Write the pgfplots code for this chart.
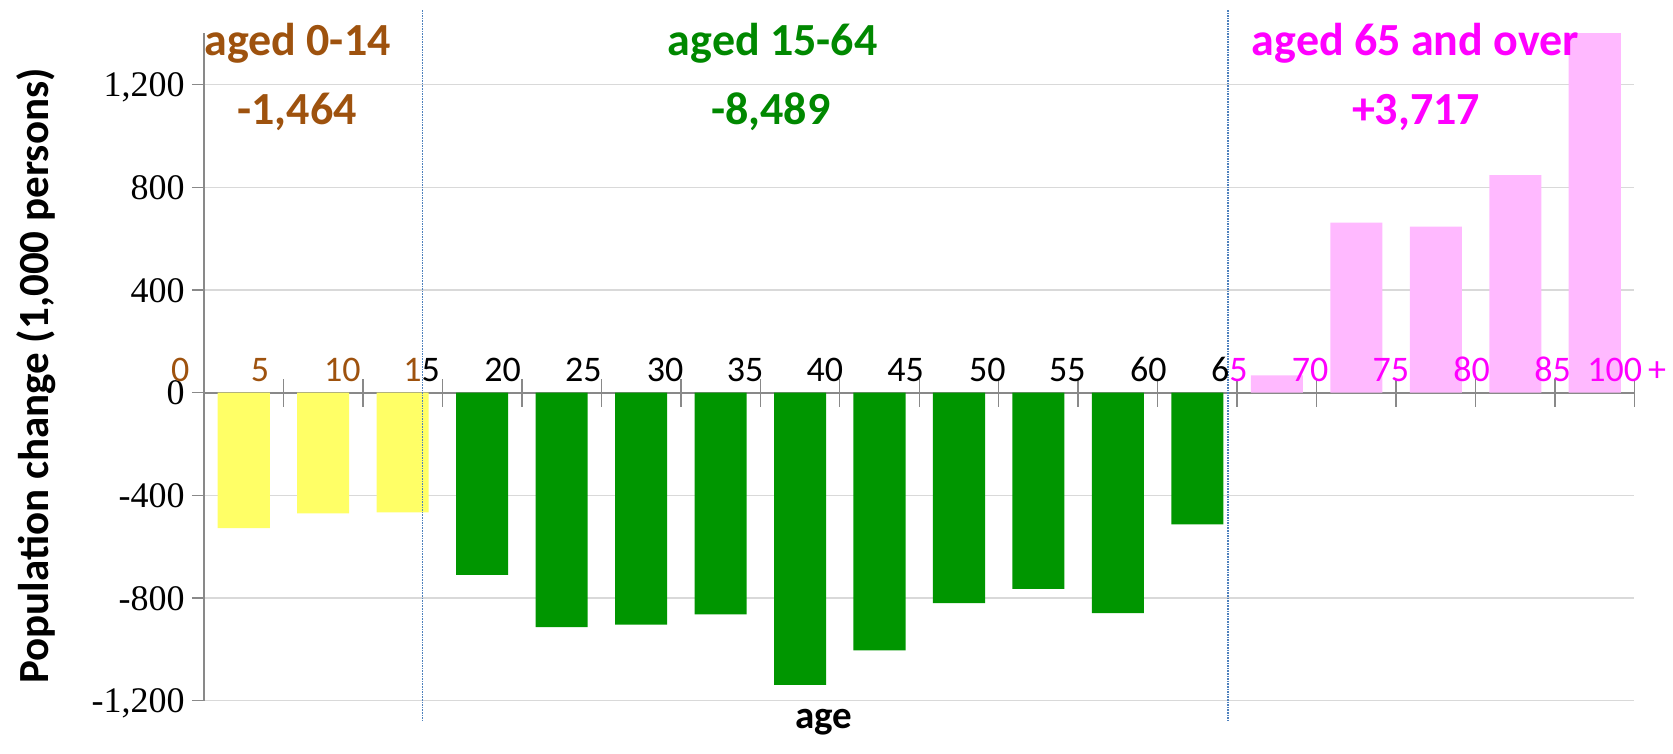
\documentclass[border=0pt]{standalone}
\usepackage{pgfplots}
\pgfplotsset{compat=1.18}
\usepackage{fontspec}
\setmainfont{Carlito}
\newfontfamily\timesf{Liberation Serif}
\definecolor{ybarc}{RGB}{255,255,102}
\definecolor{gbarc}{RGB}{0,150,0}
\definecolor{pbarc}{RGB}{255,185,255}
\definecolor{brownt}{RGB}{158,82,14}
\definecolor{greent}{RGB}{0,136,0}
\definecolor{magt}{RGB}{255,0,255}
\definecolor{gridc}{RGB}{217,217,217}
\definecolor{axisc}{RGB}{137,137,137}
\definecolor{dotc}{RGB}{79,129,189}
\newcommand{\xfont}{\fontsize{36}{36}\selectfont}
\newcommand{\gfont}{\bfseries\fontsize{46}{46}\selectfont}
\begin{document}
\begin{tikzpicture}
\begin{axis}[
 at={(204pt,53.3pt)}, anchor=south west,
 scale only axis, width=1430.5pt, height=667.3pt,
 xmin=0, xmax=18, ymin=-1200, ymax=1400,
 axis x line=middle, axis y line=left,
 axis line style={-, axisc, line width=1.6pt},
 xtick={1,...,18}, xticklabels={},
 xtick align=center,
 x tick style={/pgfplots/major tick length=28pt},
 ytick={-1200,-800,-400,0,400,800,1200},
 yticklabels={{-1,200},{-800},{-400},{0},{400},{800},{1,200}},
 ytick align=outside,
 y tick style={/pgfplots/major tick length=12pt},
 tick style={axisc, line width=1.4pt},
 ymajorgrids, grid style={gridc, line width=1.5pt},
 yticklabel style={font=\timesf\fontsize{36}{36}\selectfont, anchor=base east, inner sep=0pt, xshift=-15pt, yshift=-12pt},
 clip mode=individual,
]
\addplot[ybar, bar width=0.655, bar shift=0pt, fill=ybarc, draw=none] coordinates {
 (0.5,-528) (1.5,-470) (2.5,-466)};
\addplot[ybar, bar width=0.655, bar shift=0pt, fill=gbarc, draw=none] coordinates {
 (3.5,-710) (4.5,-913) (5.5,-904) (6.5,-864) (7.5,-1138)
 (8.5,-1004) (9.5,-820) (10.5,-764) (11.5,-859) (12.5,-513)};
\addplot[ybar, bar width=0.655, bar shift=0pt, fill=pbarc, draw=none] coordinates {
 (13.5,68) (14.5,663) (15.5,647) (16.5,848) (17.5,1491)};
% dotted separators
\draw[dotc, line width=1.6pt, densely dotted] (axis cs:2.747,1491) -- (axis cs:2.747,-1275);
\draw[dotc, line width=1.6pt, densely dotted] (axis cs:12.886,1491) -- (axis cs:12.886,-1275);
% age labels
\begin{scope}[every node/.style={anchor=base, inner sep=0pt, font=\xfont}]
\node[text=brownt] at (axis cs:-0.30,42.9) {0};
\node[text=brownt] at (axis cs:0.705,42.9) {5};
\node[text=brownt] at (axis cs:1.740,42.9) {10};
\node at (axis cs:2.739,42.9) {\textcolor{brownt}{1}\textcolor{black}{5}};
\node at (axis cs:3.759,42.9) {20};
\node at (axis cs:4.773,42.9) {25};
\node at (axis cs:5.801,42.9) {30};
\node at (axis cs:6.808,42.9) {35};
\node at (axis cs:7.814,42.9) {40};
\node at (axis cs:8.830,42.9) {45};
\node at (axis cs:9.857,42.9) {50};
\node at (axis cs:10.863,42.9) {55};
\node at (axis cs:11.882,42.9) {60};
\node at (axis cs:12.902,42.9) {\textcolor{black}{6}\textcolor{magt}{5}};
\node[text=magt] at (axis cs:13.917,42.9) {70};
\node[text=magt] at (axis cs:14.933,42.9) {75};
\node[text=magt] at (axis cs:15.952,42.9) {80};
\node[text=magt] at (axis cs:16.971,42.9) {85};
\node[text=magt] at (axis cs:17.902,42.9) {100\,+};
\end{scope}
% group labels
\begin{scope}[every node/.style={anchor=base, inner sep=0pt, font=\gfont}]
\node[text=brownt] at (axis cs:1.177,1315.7) {aged 0-14};
\node[text=brownt] at (axis cs:1.171,1045) {-1,464};
\node[text=greent] at (axis cs:7.157,1315.7) {aged 15-64};
\node[text=greent] at (axis cs:7.132,1045) {-8,489};
\node[text=magt] at (axis cs:15.245,1315.7) {aged 65 and over};
\node[text=magt] at (axis cs:15.251,1045) {+3,717};
\end{scope}
\node[rotate=90, anchor=center, inner sep=0pt, font=\bfseries\fontsize{43}{43}\selectfont] at (axis cs:-2.114,65) {Population change (1,000 persons)};
\node[anchor=base, inner sep=0pt, font=\bfseries\fontsize{39}{39}\selectfont] at (axis cs:7.795,-1307.5) {age};
\end{axis}
\pgfresetboundingbox
\path (0,0) rectangle (1673pt,754pt);
\end{tikzpicture}
\end{document}
